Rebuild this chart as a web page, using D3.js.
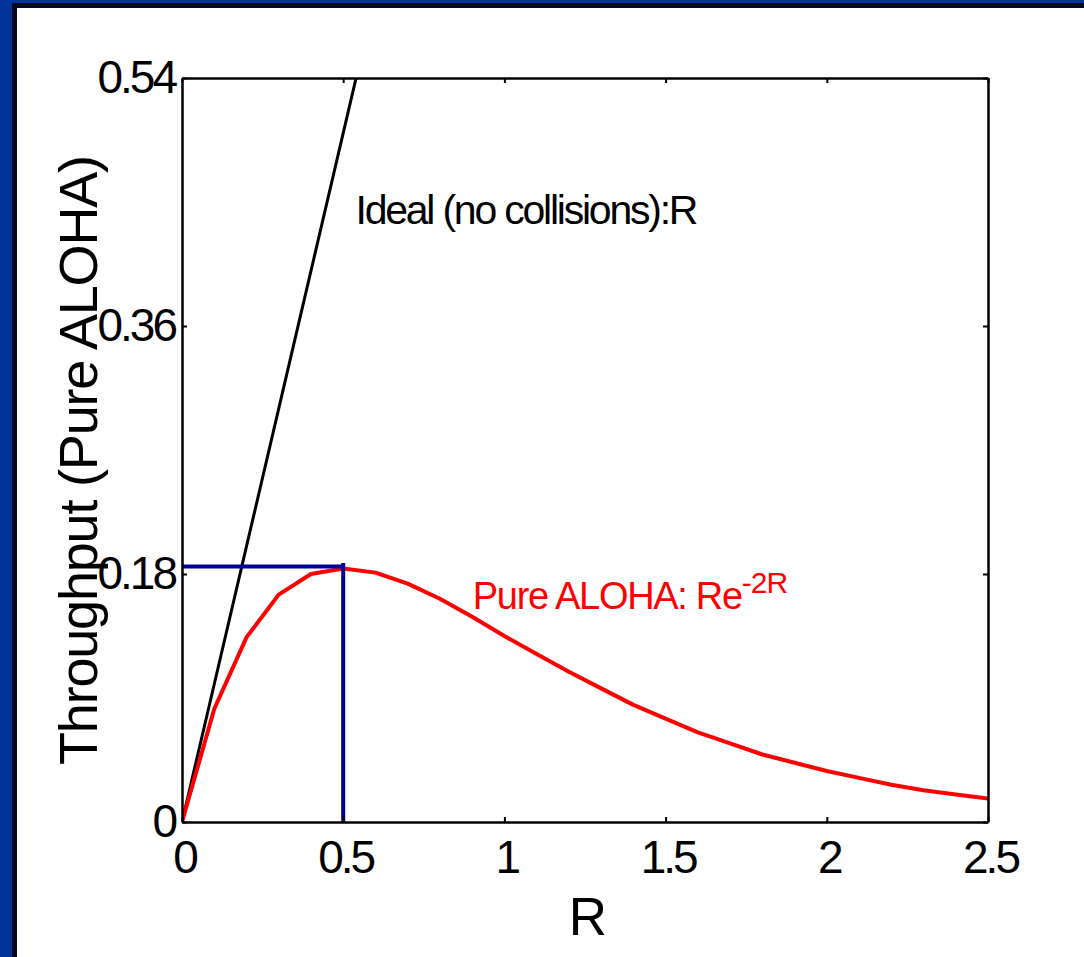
<!DOCTYPE html>
<style>
body { margin: 0; background: #fff; }
text { font-family: "Liberation Sans", Arial, sans-serif; }
</style>
<svg width="1084" height="957"></svg>
<script src="https://d3js.org/d3.v7.min.js"></script>
<script>

// offered load R
var loads = [0, 0.1, 0.2, 0.3, 0.4, 0.5, 0.6, 0.7, 0.8, 0.9, 1.0, 1.1, 1.2,
             1.3, 1.4, 1.5, 1.6, 1.7, 1.8, 1.9, 2.0, 2.1, 2.2, 2.3, 2.4, 2.5];
// pure ALOHA throughput
var pureAloha = [0, 0.082, 0.134, 0.165, 0.180, 0.184, 0.181, 0.173, 0.162, 0.149,
                 0.135, 0.122, 0.109, 0.097, 0.085, 0.075, 0.065, 0.057, 0.049, 0.043,
                 0.037, 0.032, 0.027, 0.023, 0.020, 0.017];
// ideal (no collisions) line, runs off the top of the box
var idealLoads = [0, 0.1, 0.2, 0.3, 0.4, 0.5, 0.6];
var idealThru  = [0, 0.1, 0.2, 0.3, 0.4, 0.5, 0.6];
// blue guide marking the maximum
var peakH = [[0, 0.1855], [0.5, 0.1855]];
var peakV = [[0.5, 0.188], [0.5, 0]];

var xTicks = [0, 0.5, 1, 1.5, 2, 2.5];
var yTicks = [0, 0.18, 0.36, 0.54];

var svg = d3.select("svg"),
    margin = {top: 78, right: 96, bottom: 135, left: 182},
    width = +svg.attr("width") - margin.left - margin.right,
    height = +svg.attr("height") - margin.top - margin.bottom;

// slide frame (top and left edges only are visible)
svg.append("rect").attr("x", 0).attr("y", 0).attr("width", 1084).attr("height", 8).attr("fill", "#000a1e");
svg.append("rect").attr("x", 0).attr("y", 0).attr("width", 17).attr("height", 957).attr("fill", "#000a1e");
svg.append("rect").attr("x", 0).attr("y", 0).attr("width", 1084).attr("height", 3).attr("fill", "#003399");
svg.append("rect").attr("x", 0).attr("y", 0).attr("width", 12).attr("height", 957).attr("fill", "#003399");

var g = svg.append("g").attr("transform", "translate(" + margin.left + "," + margin.top + ")");

var x = d3.scaleLinear().domain([0, 2.5]).range([0, width]);
var y = d3.scaleLinear().domain([0, 0.54]).range([height, 0]);

g.append("clipPath").attr("id", "clip")
  .append("rect").attr("width", width).attr("height", height);

var line = d3.line()
    .x(function(d) { return x(d[0]); })
    .y(function(d) { return y(d[1]); });

var plot = g.append("g").attr("clip-path", "url(#clip)");

plot.append("path")
    .datum(idealLoads.map(function(r, i) { return [r, idealThru[i]]; }))
    .attr("fill", "none")
    .attr("stroke", "#000")
    .attr("stroke-width", 3)
    .attr("d", line);

plot.append("path")
    .datum(loads.map(function(r, i) { return [r, pureAloha[i]]; }))
    .attr("fill", "none")
    .attr("stroke", "#ff0000")
    .attr("stroke-width", 4)
    .attr("stroke-linejoin", "round")
    .attr("d", line);

[peakH, peakV].forEach(function(seg) {
  g.append("path")
      .datum(seg)
      .attr("fill", "none")
      .attr("stroke", "#00009c")
      .attr("stroke-width", 4)
      .attr("d", line);
});

// box axes with small inward ticks
var axisStyle = function(sel) {
  sel.select(".domain").attr("stroke", "#000").attr("stroke-width", 2.5);
  sel.selectAll(".tick line").attr("stroke", "#000").attr("stroke-width", 2);
  sel.selectAll(".tick text")
      .attr("font-family", "Liberation Sans, Arial, sans-serif")
      .attr("font-size", 46)
      .attr("fill", "#000")
      .attr("letter-spacing", -3);
};

g.append("g")
    .attr("transform", "translate(0," + height + ")")
    .call(d3.axisBottom(x).tickValues(xTicks).tickSizeInner(-5).tickSizeOuter(0).tickPadding(18)
      .tickFormat(d3.format("")))
    .call(axisStyle)
    .selectAll(".tick text").attr("dy", "0.71em").attr("dx", 2);

g.append("g")
    .call(d3.axisLeft(y).tickValues(yTicks).tickSizeInner(-5).tickSizeOuter(0).tickPadding(7)
      .tickFormat(function(d) { return d === 0 ? "0" : d3.format(".2f")(d); }))
    .call(axisStyle);

g.append("g")
    .call(d3.axisTop(x).tickValues(xTicks).tickSizeInner(-5).tickSizeOuter(0).tickFormat(""))
    .call(axisStyle);

g.append("g")
    .attr("transform", "translate(" + width + ",0)")
    .call(d3.axisRight(y).tickValues(yTicks).tickSizeInner(-5).tickSizeOuter(0).tickFormat(""))
    .call(axisStyle);

// axis titles
g.append("text")
    .attr("x", width / 2 + 3)
    .attr("y", height + 113)
    .attr("text-anchor", "middle")
    .attr("font-size", 53)
    .text("R");

g.append("text")
    .attr("transform", "translate(" + (97 - margin.left) + "," + (460 - margin.top) + ") rotate(-90)")
    .attr("text-anchor", "middle")
    .attr("font-size", 54)
    .attr("textLength", 610)
    .attr("lengthAdjust", "spacing")
    .text("Throughput (Pure ALOHA)");

// curve annotations
g.append("text")
    .attr("x", x(0.538))
    .attr("y", 224 - margin.top)
    .attr("font-size", 41)
    .attr("textLength", 343)
    .attr("lengthAdjust", "spacing")
    .text("Ideal (no collisions):R");

var lab = g.append("text")
    .attr("x", x(0.902))
    .attr("y", 609 - margin.top)
    .attr("font-size", 38)
    .attr("fill", "#ff0000");
lab.append("tspan").attr("letter-spacing", -1.3).text("Pure ALOHA: Re");
lab.append("tspan").attr("font-size", 30).attr("dy", -16).attr("letter-spacing", -1).text("-2R");

</script>
